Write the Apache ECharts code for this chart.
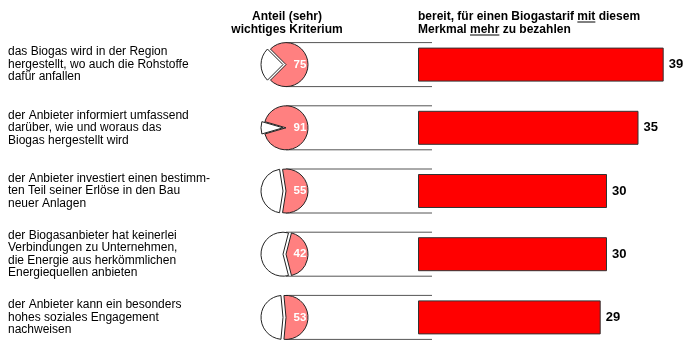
<!DOCTYPE html>
<html><head><meta charset="utf-8">
<script src="https://cdn.jsdelivr.net/npm/echarts@6/dist/echarts.min.js"></script>
<style>html,body{margin:0;padding:0;background:#fff}#c{width:683px;height:349px}</style>
</head><body><div id="c"></div>
<script>
const categories = [
  'das Biogas wird in der Region\nhergestellt, wo auch die Rohstoffe\ndafür anfallen',
  'der Anbieter informiert umfassend\ndarüber, wie und woraus das\nBiogas hergestellt wird',
  'der Anbieter investiert einen bestimm-\nten Teil seiner Erlöse in den Bau\nneuer Anlagen',
  'der Biogasanbieter hat keinerlei\nVerbindungen zu Unternehmen,\ndie Energie aus herkömmlichen\nEnergiequellen anbieten',
  'der Anbieter kann ein besonders\nhohes soziales Engagement\nnachweisen'
];
const importance = [75, 91, 55, 42, 53];
const willingness = [39, 35, 30, 30, 29];
const headerLeft = ['Anteil (sehr)', 'wichtiges Kriterium'];
const headerRight = [['bereit, für einen Biogastarif ', 'mit', ' diesem'], ['Merkmal ', 'mehr', ' zu bezahlen']];

const FONT = "'Liberation Sans', Arial, Helvetica, sans-serif";
const PIE_R = 22;

const chart = echarts.init(document.getElementById('c'), null, {renderer: 'canvas'});

// text measurement for underlines
const ctx = document.createElement('canvas').getContext('2d');
ctx.font = "bold 12px 'Liberation Sans', Arial, sans-serif";
const mw = s => ctx.measureText(s).width;

const graphic = [];
headerLeft.forEach((t, i) => {
  graphic.push({type: 'text', x: 287, y: 16.5 + i * 13, silent: true,
    style: {text: t, fontSize: 12, fontWeight: 'bold', fontFamily: FONT, fill: '#000', align: 'center', verticalAlign: 'middle'}});
});
headerRight.forEach((parts, i) => {
  const y = 16.5 + i * 13;
  graphic.push({type: 'text', x: 418, y: y, silent: true,
    style: {text: parts.join(''), fontSize: 12, fontWeight: 'bold', fontFamily: FONT, fill: '#000', align: 'left', verticalAlign: 'middle'}});
  const x0 = 418 + mw(parts[0]);
  const x1 = x0 + mw(parts[1]);
  graphic.push({type: 'line', silent: true, shape: {x1: x0, y1: y + 5.5, x2: x1, y2: y + 5.5},
    style: {stroke: '#000', lineWidth: 1}});
});

const barSeries = {
  type: 'bar', xAxisIndex: 0, yAxisIndex: 0, data: willingness, barWidth: 34, silent: true,
  itemStyle: {color: '#FF0000', borderColor: '#333', borderWidth: 1},
  label: {show: true, position: 'right', distance: 5, color: '#000', fontSize: 13, fontWeight: 'bold', fontFamily: FONT}
};

const lineSeries = {
  type: 'custom', xAxisIndex: 1, yAxisIndex: 1, silent: true, z: 1,
  data: importance.map((v, i) => [0, i]),
  encode: {x: 0, y: 1},
  renderItem: (params, api) => {
    const idx = api.value(1);
    const a = api.coord([0, idx]);
    const b = api.coord([1, idx]);
    const st = {stroke: '#555', lineWidth: 1};
    return {type: 'group', children: [
      {type: 'line', shape: {x1: a[0], y1: a[1] - PIE_R, x2: b[0], y2: b[1] - PIE_R}, style: st},
      {type: 'line', shape: {x1: a[0], y1: a[1] + PIE_R, x2: b[0], y2: b[1] + PIE_R}, style: st}
    ]};
  }
};

const base = {
  animation: false,
  graphic: graphic,
  grid: [
    {left: 418, right: 13, top: 33, height: 331},
    {left: 286, width: 146, top: 33, height: 331}
  ],
  xAxis: [
    {type: 'value', gridIndex: 0, min: 0, max: 40, show: false},
    {type: 'value', gridIndex: 1, min: 0, max: 1, show: false}
  ],
  yAxis: [
    {type: 'category', gridIndex: 0, data: categories, inverse: true, show: false},
    {type: 'category', gridIndex: 1, data: categories, inverse: true,
     axisLine: {show: false}, axisTick: {show: false}, splitLine: {show: false},
     axisLabel: {margin: 278, align: 'left', interval: 0, fontSize: 12, lineHeight: 12.5, color: '#000', fontFamily: FONT}}
  ],
  series: [barSeries, lineSeries]
};
chart.setOption(base);

const pies = importance.map((v, i) => {
  const c = chart.convertToPixel({gridIndex: 1}, [0, i]);
  return {
    type: 'pie', center: [c[0], c[1]], radius: PIE_R, startAngle: v * 1.8, clockwise: true,
    selectedMode: 'single', selectedOffset: 3, z: 5, silent: true, avoidLabelOverlap: false,
    label: {show: false}, labelLine: {show: false}, emphasis: {disabled: true},
    data: [
      {value: v, name: 'wichtig', itemStyle: {color: '#FF8080', borderColor: '#222', borderWidth: 1},
       label: {show: true, position: 'inside', formatter: '{c}', color: '#fff', fontWeight: 'bold', fontSize: 11.5, fontFamily: FONT}},
      {value: 100 - v, name: 'weniger', selected: true, itemStyle: {color: '#fff', borderColor: '#222', borderWidth: 1}}
    ]
  };
});
chart.setOption({series: [barSeries, lineSeries].concat(pies)});
</script>
</body></html>
